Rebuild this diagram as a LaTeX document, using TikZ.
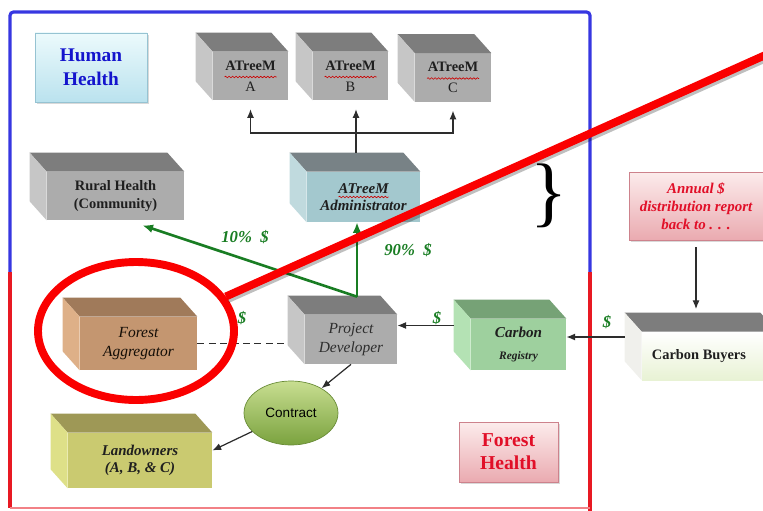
\documentclass[tikz,border=0pt]{standalone}
\usepackage{fontspec}
\setmainfont{Liberation Serif}
\newfontfamily\arialfont{Liberation Sans}
\usetikzlibrary{arrows.meta,calc,positioning,shapes.geometric,shadows,decorations.pathmorphing}

\definecolor{frameblue}{RGB}{55,55,225}
\definecolor{framered}{RGB}{232,25,35}
\definecolor{moneygreen}{RGB}{25,125,35}
\definecolor{callred}{RGB}{250,0,0}
\definecolor{linegray}{RGB}{45,45,45}
\definecolor{grayfront}{RGB}{172,172,172}
\definecolor{graytop}{RGB}{125,125,125}
\definecolor{grayside}{RGB}{198,198,198}
\definecolor{admfront}{RGB}{163,200,206}
\definecolor{admtop}{RGB}{120,130,134}
\definecolor{admside}{RGB}{192,218,222}
\definecolor{aggfront}{RGB}{196,150,112}
\definecolor{aggtop}{RGB}{160,122,90}
\definecolor{aggside}{RGB}{222,176,136}
\definecolor{regfront}{RGB}{158,208,158}
\definecolor{regtop}{RGB}{118,162,118}
\definecolor{regside}{RGB}{180,226,180}
\definecolor{landfront}{RGB}{202,202,112}
\definecolor{landtop}{RGB}{158,152,86}
\definecolor{landside}{RGB}{222,224,136}
\definecolor{buyfront}{RGB}{232,242,212}
\definecolor{buyside}{RGB}{240,240,236}
\definecolor{humtop}{RGB}{236,250,252}
\definecolor{humbot}{RGB}{186,226,238}
\definecolor{humline}{RGB}{150,195,210}
\definecolor{humtext}{RGB}{20,20,205}
\definecolor{pinktop}{RGB}{252,236,236}
\definecolor{pinkbot}{RGB}{234,170,176}
\definecolor{pinkline}{RGB}{205,130,140}
\definecolor{redtext}{RGB}{225,15,40}
\definecolor{contop}{RGB}{200,222,145}
\definecolor{conbot}{RGB}{122,162,62}
\definecolor{conline}{RGB}{105,140,55}

\newcommand\cubebf{\fontsize{8.2}{10}\selectfont\bfseries}
\newcommand\cubebfit{\fontsize{8.5}{10}\selectfont\bfseries\itshape}
\newcommand\cubeit{\fontsize{8.8}{10.5}\selectfont\itshape}
\newcommand\boxfaces[3]{
\fill[#2] (#1.north west) -- ++(-17,-19) -- ($(#1.north east)+(-17,-19)$) -- (#1.north east) -- cycle;
\fill[#3] (#1.north west) -- ++(-17,-19) -- ($(#1.south west)+(-17,-19)$) -- (#1.south west) -- cycle;
\coordinate (#1-top) at ($(#1.north)+(-17,-19)$);
\coordinate (#1-back) at ($(#1.west)+(-17,-19)$);}
\newcommand\squiggle[3]{
\draw[squig] ($(#1)+(-#3,#2)$) -- ($(#1)+(#3,#2)$);}

\tikzset{
front/.style={inner sep=1pt, align=center, text=black!88},
sz/.style 2 args={minimum width=#1*0.02cm, minimum height=#2*0.02cm},
arr/.style={draw=linegray, line width=0.7pt, -{Latex[length=5pt,width=4pt]}},
plainline/.style={draw=linegray, line width=0.7pt},
greenarr/.style={draw=moneygreen, line width=1.5pt, -{Latex[length=6pt,width=5pt]}},
dashline/.style={draw=linegray, line width=0.8pt, dash pattern=on 4pt off 2.5pt},
money/.style={text=moneygreen, font=\fontsize{9.5}{11}\selectfont\bfseries\itshape},
titlebox/.style={draw, line width=0.5pt, align=center, drop shadow={opacity=0.3, shadow xshift=1.2pt, shadow yshift=-1.2pt}},
callout/.style={ellipse, draw=callred, line width=4.5pt},
squig/.style={red!80!black, line width=0.35pt, decorate, decoration={snake, amplitude=0.45pt, segment length=2pt}},
}

\begin{document}
\begin{tikzpicture}[x=0.02cm, y=-0.02cm]
\useasboundingbox (0,0) rectangle (763,510);

\draw[frameblue, line width=1.8pt, rounded corners=2pt] (10,272) -- (10,12) -- (590,12) -- (590,272);
\draw[framered, line width=1.8pt] (10,272) -- (10,508);
\draw[framered, line width=1.8pt] (590,272) -- (590,512);
\draw[framered!55, line width=1.5pt] (10,508) -- (590,508);

\node[titlebox, draw=humline, sz={112}{69}, top color=humtop, bottom color=humbot, text=humtext, font=\fontsize{11}{13.5}\selectfont\bfseries] (human) at (91,67.5) {Human\\Health};
\node[titlebox, draw=pinkline, sz={99}{60}, top color=pinktop, bottom color=pinkbot, text=redtext, font=\fontsize{11.2}{13}\selectfont\bfseries] (foresth) at (508.5,452) {Forest\\Health};
\node[titlebox, draw=pinkline, sz={134}{68}, top color=pinktop, bottom color=pinkbot, text=redtext, font=\fontsize{8.5}{10.2}\selectfont\bfseries\itshape] (annual) at (696,206) {Annual \$\\distribution report\\back to . . .};

\node[front, sz={75}{48}, fill=grayfront] (atA) at (250.5,76) {{\cubebf ATreeM}\\{\fontsize{8.2}{10}\selectfont A}};
\boxfaces{atA}{graytop}{grayside}
\squiggle{atA}{1}{26}
\node[front, sz={75}{48}, fill=grayfront] (atB) at (350.5,76) {{\cubebf ATreeM}\\{\fontsize{8.2}{10}\selectfont B}};
\boxfaces{atB}{graytop}{grayside}
\squiggle{atB}{1}{26}
\node[front, sz={76}{48}, fill=grayfront] (atC) at (453,77.5) {{\cubebf ATreeM}\\{\fontsize{8.2}{10}\selectfont C}};
\boxfaces{atC}{graytop}{grayside}
\squiggle{atC}{1}{26}
\node[front, sz={137}{48}, fill=grayfront, font=\cubebf] (rural) at (115.5,196) {Rural Health\\(Community)};
\boxfaces{rural}{graytop}{grayside}
\node[front, sz={113}{50}, fill=admfront, font=\cubebfit] (adm) at (363.5,197) {ATreeM\\Administrator};
\boxfaces{adm}{admtop}{admside}
\squiggle{adm}{0}{25}
\node[front, sz={117}{53}, fill=aggfront, font=\cubeit, text=black!90!brown] (agg) at (138.5,343.5) {Forest\\Aggregator};
\boxfaces{agg}{aggtop}{aggside}
\node[front, sz={92}{49}, fill=grayfront, font=\cubeit, text=black!82] (pd) at (351,339.5) {Project\\Developer};
\boxfaces{pd}{graytop}{grayside}
\node[front, sz={95}{51}, fill=regfront, font=\bfseries\itshape] (reg) at (518.5,344.5) {{\fontsize{8.6}{10}\selectfont Carbon}\\{\fontsize{6.5}{9}\selectfont Registry}};
\boxfaces{reg}{regtop}{regside}
\node[front, sz={144}{55}, fill=landfront, font=\cubebfit] (land) at (140,460.5) {Landowners\\(A, B, \& C)};
\boxfaces{land}{landtop}{landside}
\node[front, sz={135}{48}, top color=white, bottom color=buyfront, font=\cubebf] (buyers) at (709.5,356) {\hspace*{-12pt}Carbon Buyers};
\boxfaces{buyers}{graytop}{buyside}

\node[ellipse, draw=conline, line width=0.4pt, sz={94}{64}, top color=contop, bottom color=conbot, font=\arialfont\fontsize{7.7}{9}\selectfont] (contract) at (291,413) {Contract};
\node[font=\fontsize{44}{44}\selectfont] (brace) at (549,196) {\}};

\coordinate (split) at (356,133);
\draw[plainline] (adm-top -| split) -- (split);
\draw[arr, shorten >=5pt] (split) -| (atA.south);
\draw[arr, shorten >=5pt] (split) -- (split |- atB.south);
\draw[arr, shorten >=5pt] (split) -| (atC.south);

\coordinate (fork) at ($(pd.north)+(6,-18)$);
\draw[greenarr] (fork) -- (fork |- adm.south);
\draw[greenarr] (fork) -- ($(rural.south)+(27,5)$);
\node[money] (pct10) at (245,237) {10\%\ \ \$};
\node[money] (pct90) at (408,250) {90\%\ \ \$};

\draw[dashline] (agg.east) -- (agg.east -| pd-back);
\node[money] (usdagg) at (242,318) {\$};
\draw[arr] (reg-back) -- (reg-back -| pd.east);
\node[money] (usdreg) at (437,318) {\$};
\draw[arr] (buyers-back) -- (buyers-back -| reg.east);
\node[money] (usdbuy) at (607,322) {\$};
\draw[arr, shorten <=4pt, shorten >=2pt] (annual.south) -- (annual.south |- buyers-top);
\draw[arr] (pd.south) -- (contract);
\draw[arr] (contract) -- ($(land.east)+(0,-10)$);

\node[callout, sz={196}{138}] (focus) at (136,331) {};
\coordinate (focusend) at (790,44);
\draw[black, opacity=0.25, line width=4pt] ($(focus.21)+(2,3)$) -- ($(focusend)+(2,3)$);
\draw[callred, line width=4.5pt] (focus.21) -- (focusend);
\end{tikzpicture}
\end{document}
